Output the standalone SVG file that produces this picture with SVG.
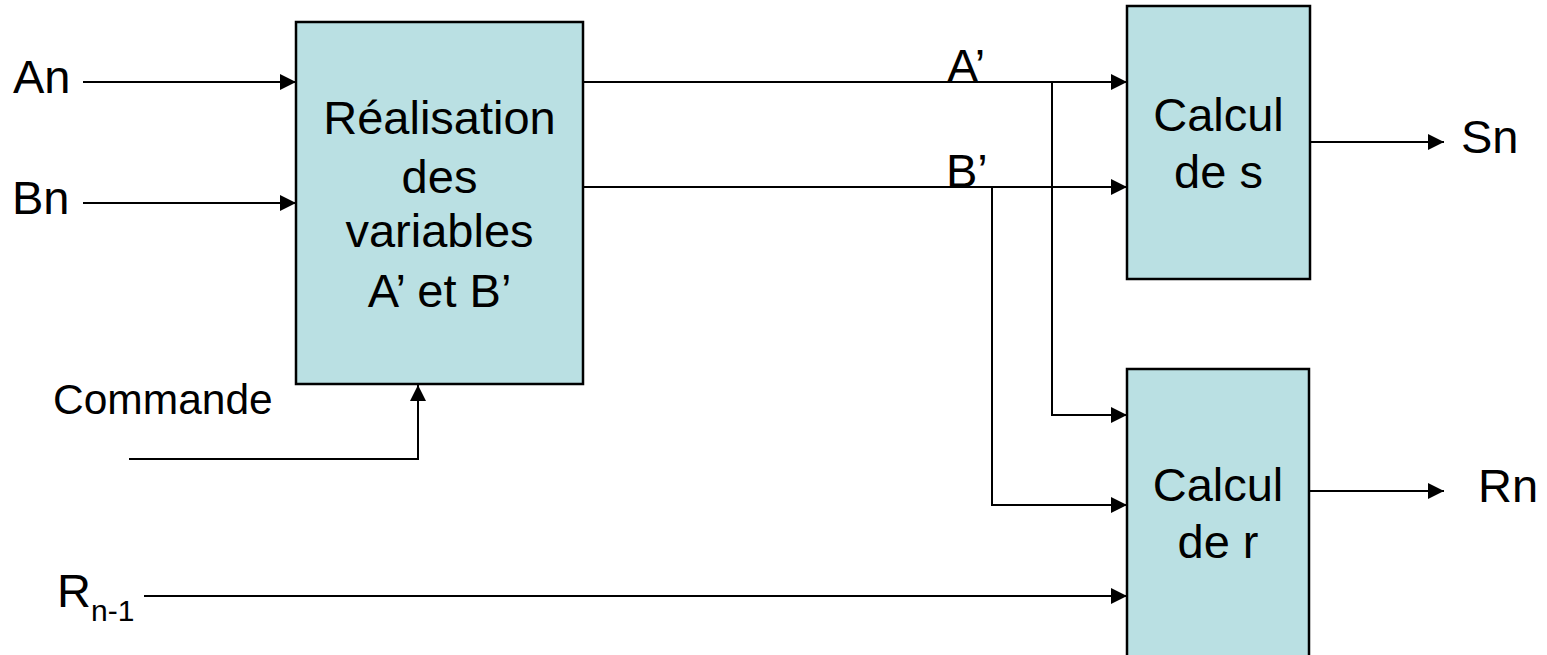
<svg xmlns="http://www.w3.org/2000/svg" width="1547" height="655" viewBox="0 0 1547 655">
<style>
.box{fill:#bae0e3;stroke:#000;stroke-width:2.5}
.ln{fill:none;stroke:#000;stroke-width:2}
.t{font-family:"Liberation Sans",Arial,sans-serif;fill:#000}
.big{font-size:47px}
.mid{font-size:42.5px}
.sub{font-size:30px}
</style>
<defs>
<marker id="ah" markerUnits="userSpaceOnUse" markerWidth="16" markerHeight="16" refX="16" refY="8" orient="auto">
<path d="M0,0 L16,8 L0,16 Z" fill="#000"/>
</marker>
</defs>
<rect width="1547" height="655" fill="#fff"/>
<g id="connectors">
<line class="ln" x1="83" y1="82" x2="296" y2="82" marker-end="url(#ah)"/>
<line class="ln" x1="83" y1="203" x2="296" y2="203" marker-end="url(#ah)"/>
<polyline class="ln" points="129,459 418,459 418,385" marker-end="url(#ah)"/>
<line class="ln" x1="144" y1="596" x2="1127" y2="596" marker-end="url(#ah)"/>
<line class="ln" x1="583" y1="82" x2="1127" y2="82" marker-end="url(#ah)"/>
<line class="ln" x1="583" y1="187" x2="1127" y2="187" marker-end="url(#ah)"/>
<polyline class="ln" points="1052,82 1052,415 1127,415" marker-end="url(#ah)"/>
<polyline class="ln" points="992,187 992,505 1127,505" marker-end="url(#ah)"/>
<line class="ln" x1="1310" y1="142" x2="1444" y2="142" marker-end="url(#ah)"/>
<line class="ln" x1="1309" y1="491" x2="1444" y2="491" marker-end="url(#ah)"/>
</g>
<g id="node-realisation">
<rect class="box" x="296" y="22" width="287" height="362"/>
<text class="t big" text-anchor="middle" x="439.5" y="134">Réalisation</text>
<text class="t big" text-anchor="middle" x="439.5" y="193">des</text>
<text class="t big" text-anchor="middle" x="439.5" y="247">variables</text>
<text class="t big" text-anchor="middle" x="439.5" y="307">A’ et B’</text>
</g>
<g id="node-calcul-s">
<rect class="box" x="1127" y="6" width="183" height="273"/>
<text class="t big" text-anchor="middle" x="1218.5" y="131">Calcul</text>
<text class="t big" text-anchor="middle" x="1218.5" y="188">de s</text>
</g>
<g id="node-calcul-r">
<rect class="box" x="1127" y="369" width="182" height="300"/>
<text class="t big" text-anchor="middle" x="1218" y="501">Calcul</text>
<text class="t big" text-anchor="middle" x="1218" y="558">de r</text>
</g>
<g id="labels">
<text class="t big" x="13" y="93">An</text>
<text class="t big" x="12" y="214">Bn</text>
<text class="t mid" x="53" y="414">Commande</text>
<text class="t big" x="57" y="607">R<tspan class="sub" y="621">n-1</tspan></text>
<text class="t big" x="947" y="82">A’</text>
<text class="t big" x="946" y="187">B’</text>
<text class="t big" x="1461" y="153">Sn</text>
<text class="t big" x="1478" y="502">Rn</text>
</g>
</svg>
